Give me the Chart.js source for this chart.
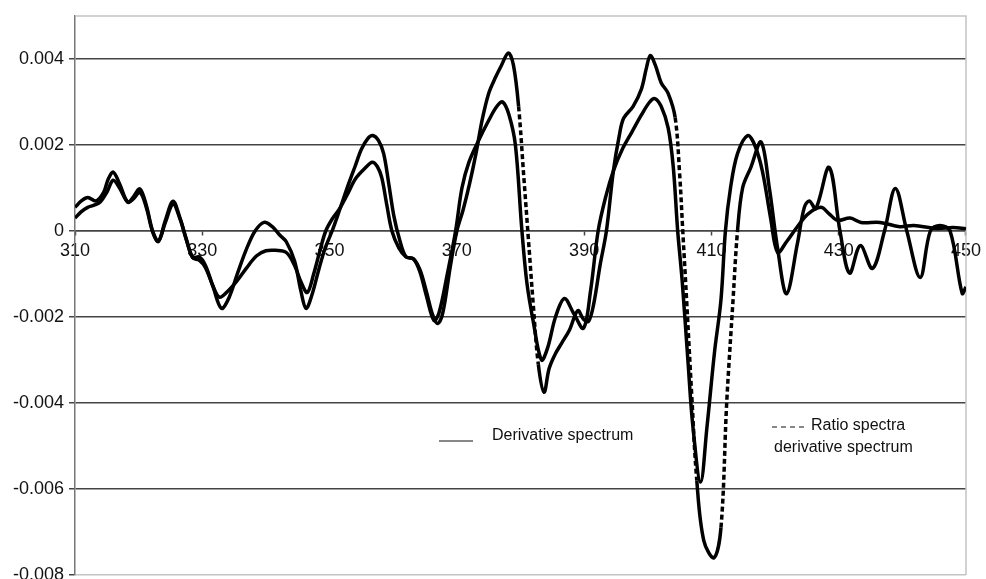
<!DOCTYPE html>
<html><head><meta charset="utf-8">
<script src="https://cdn.jsdelivr.net/npm/chart.js@4.4.1/dist/chart.umd.min.js"></script>
<style>
html,body{margin:0;padding:0;background:#fff;overflow:hidden;width:986px;height:579px;}
#wrap{position:absolute;left:0;top:0;width:986px;height:600px;}
</style></head><body>
<div id="wrap"><canvas id="c"></canvas></div>
<script>
const xTicks = [310, 330, 350, 370, 390, 410, 430, 450];
const yTicks = [-0.008, -0.006, -0.004, -0.002, 0, 0.002, 0.004];

// Ratio spectra derivative spectrum (larger amplitude, dashed)
const ratioX = [310,311,312,313.3,314.5,315.2,316,317,318.3,319.2,320.2,321.2,322.2,323.1,324.2,325.4,326.5,327.5,328.5,329.5,330.5,331.7,333,334.2,335.5,337,338.3,339.7,341,342.2,343.2,344.5,345.5,346.3,347.2,348.3,349.3,350.4,351.6,353,354,355,356,356.8,357.7,358.5,359.3,360.1,361,362,363.2,364.2,365.2,366.2,367,367.8,369,370,371,372,373,374,375,376,377,378.1,378.9,379.7,380.5,381.2,382,382.8,383.7,384.5,385.5,386.5,387.7,389,389.9,390.7,391.5,392.5,393.5,394.6,395.5,396.2,397.7,399,399.8,400.4,401.2,402.1,403.2,404.3,405,405.5,406.1,406.9,407.7,408.8,410.4,411.5,412.4,413.4,414.1,414.9,416.2,417.8,419.1,420.4,421.8,423.5,424.6,425.4,426.4,428.5,430.2,431.7,433.4,435.3,437.2,438.9,440.7,442.8,444.4,445.9,447.5,449.4,450];
const ratioY = [0.00055,0.0007,0.00078,0.0007,0.0009,0.0012,0.00137,0.0011,0.00067,0.0008,0.00098,0.0006,0.0,-0.00024,0.00025,0.00069,0.0003,-0.0002,-0.00062,-0.0006,-0.0008,-0.0013,-0.0018,-0.00155,-0.001,-0.0004,0.0,0.0002,0.0001,-0.0001,-0.00025,-0.0007,-0.0014,-0.0018,-0.0015,-0.0009,-0.0004,0.0,0.0005,0.0011,0.0015,0.0019,0.00215,0.00222,0.0021,0.0018,0.0011,0.00035,-0.0002,-0.0006,-0.00065,-0.0009,-0.0014,-0.00195,-0.00215,-0.0019,-0.0008,0.0,0.0005,0.0011,0.0018,0.0026,0.0032,0.00355,0.00385,0.00414,0.00385,0.0029,0.0013,-0.0001,-0.0017,-0.0031,-0.00375,-0.0032,-0.00285,-0.0026,-0.0023,-0.00185,-0.00205,-0.0021,-0.0017,-0.0008,0.0,0.0014,0.0022,0.00262,0.0029,0.0033,0.0038,0.00408,0.00385,0.00345,0.0032,0.00264,0.00134,0.0,-0.0016,-0.0038,-0.0058,-0.0072,-0.0076,-0.0069,-0.004,-0.0016,0.0,0.001,0.00148,0.00207,0.001,-0.0004,-0.00146,-0.0003,0.00055,0.0007,0.00052,0.00148,0.0,-0.00098,-0.00034,-0.00087,0.0,0.00099,0.0,-0.00108,0.0,0.00013,0.0,-0.00145,-0.0013];

// Derivative spectrum (smaller amplitude, solid)
const derivX = [310,311,312,313,314,315,316,317,318.3,319.2,320.2,321.2,322.2,323.1,324.2,325.4,326.5,327.5,328.5,329.5,330.5,331.6,332.7,334,335.5,337,338.5,340,341.5,343.2,344.5,345.5,346.5,347.5,348.5,349.4,350.5,351.5,352.8,354.1,355.7,356.7,357.5,358.2,359,359.8,360.9,362,363.2,364.2,365.2,366.4,367.2,368.5,369.8,370.8,371.9,373.4,375,376.3,377.2,378.2,379.2,380.2,381,382,383.3,384.3,385.5,386.9,388.3,389.9,391,392.2,393.4,394.6,396,397.5,399,400.3,401.1,402.1,403.2,404,404.7,405.4,406.3,407.1,408.3,409.3,410.5,411.5,412.2,413,414.1,415.7,416.8,418,419.3,420.4,421.8,423.5,425.2,427.2,428.5,429.8,431.8,433.5,436.5,439.6,441.8,445.4,448,450];
const derivY = [0.0003,0.00045,0.00055,0.0006,0.00068,0.0009,0.00118,0.001,0.00067,0.00075,0.0009,0.00055,-0.00002,-0.00024,0.0002,0.00062,0.00028,-0.0002,-0.00062,-0.00068,-0.00085,-0.00125,-0.00154,-0.0014,-0.00115,-0.00085,-0.00058,-0.00046,-0.00045,-0.0005,-0.0008,-0.00118,-0.00143,-0.001,-0.00045,0.0,0.0003,0.0005,0.00085,0.00122,0.00148,0.0016,0.0015,0.00124,0.0006,0.0,-0.0004,-0.0006,-0.00065,-0.00095,-0.0015,-0.00208,-0.0019,-0.001,0.0,0.001,0.0016,0.0021,0.00257,0.0029,0.003,0.0027,0.002,0.00005,-0.0012,-0.0021,-0.003,-0.0027,-0.002,-0.00157,-0.0019,-0.00226,-0.0014,0.0,0.0008,0.0014,0.0019,0.0023,0.0027,0.003,0.00308,0.0029,0.0024,0.0015,0.0,-0.00115,-0.003,-0.00456,-0.00584,-0.00456,-0.0028,-0.0016,0.0,0.001,0.0018,0.00222,0.002,0.0014,0.0003,-0.0005,-0.00025,0.0001,0.0004,0.00055,0.0004,0.00025,0.0003,0.0002,0.0002,0.0001,0.00013,0.00006,0.00008,0.00005];

const legendSolid = 'Derivative spectrum';
const legendDashed = ['Ratio spectra', 'derivative spectrum'];

const FONT = "'Liberation Sans', Arial, sans-serif";

const framePlugin = {
  id: 'frame',
  beforeDatasetsDraw(chart) {
    const a = chart.chartArea, c = chart.ctx;
    c.save();
    c.strokeStyle = '#c4c4c4';
    c.lineWidth = 1.5;
    c.beginPath();
    c.moveTo(a.left, a.top); c.lineTo(a.right, a.top); c.lineTo(a.right, a.bottom);
    c.stroke();
    c.restore();
  }
};

const legendPlugin = {
  id: 'customLegend',
  afterDatasetsDraw(chart) {
    const c = chart.ctx;
    c.save();
    c.font = '16px ' + FONT;
    c.fillStyle = '#111';
    c.strokeStyle = '#111';
    c.textBaseline = 'middle';
    c.textAlign = 'left';
    c.lineWidth = 1.2;
    c.beginPath(); c.moveTo(439, 441); c.lineTo(473, 441); c.stroke();
    c.fillText(legendSolid, 492, 436);
    c.setLineDash([5, 4]);
    c.beginPath(); c.moveTo(772, 427); c.lineTo(806, 427); c.stroke();
    c.setLineDash([]);
    c.fillText(legendDashed[0], 811, 426);
    c.fillText(legendDashed[1], 774, 448);
    c.restore();
  }
};

const toPts = (xs, ys) => xs.map((x, i) => ({ x: x, y: ys[i] }));

new Chart(document.getElementById('c'), {
  type: 'line',
  data: {
    datasets: [
      {
        label: 'Derivative spectrum',
        data: toPts(derivX, derivY),
        borderColor: '#000', borderWidth: 3.5, pointRadius: 0,
        tension: 0.35, fill: false
      },
      {
        label: 'Ratio spectra derivative spectrum',
        data: toPts(ratioX, ratioY),
        borderColor: '#000', borderWidth: 3.5, pointRadius: 0,
        tension: 0.35, fill: false,
        segment: {
          borderDash: s => {
            const dx = s.p1.parsed.x - s.p0.parsed.x;
            const dy = s.p1.parsed.y - s.p0.parsed.y;
            return Math.abs(dy / dx) > 0.0015 ? [5, 3] : undefined;
          }
        }
      }
    ]
  },
  options: {
    responsive: true, maintainAspectRatio: false, animation: false,
    layout: { padding: { top: 16, right: 17, bottom: 25, left: 0 } },
    plugins: { legend: { display: false }, tooltip: { enabled: false } },
    scales: {
      x: {
        type: 'linear', position: { y: 0 }, min: 310, max: 450,
        afterBuildTicks: s => { s.ticks = xTicks.map(v => ({ value: v })); },
        grid: { drawOnChartArea: false, drawTicks: true, tickLength: 4, tickColor: '#444', tickWidth: 1.5 },
        border: { display: true, color: '#444', width: 1.5 },
        ticks: { font: { family: FONT, size: 18 }, color: '#111', padding: 5, maxRotation: 0, autoSkip: false }
      },
      y: {
        type: 'linear', min: -0.008, max: 0.005,
        afterBuildTicks: s => { s.ticks = yTicks.map(v => ({ value: v })); },
        afterFit: s => { s.width = 75; },
        grid: {
          color: g => (g.tick && g.tick.value === -0.008) ? '#c4c4c4' : '#444',
          lineWidth: 1.5, tickLength: 6, tickColor: '#444', tickWidth: 1.5
        },
        border: { display: true, color: '#777', width: 1.5 },
        ticks: {
          font: { family: FONT, size: 18 }, color: '#111', padding: 5,
          callback: v => v === 0 ? '0' : v.toFixed(3)
        }
      }
    }
  },
  plugins: [framePlugin, legendPlugin]
});
</script>
</body></html>
